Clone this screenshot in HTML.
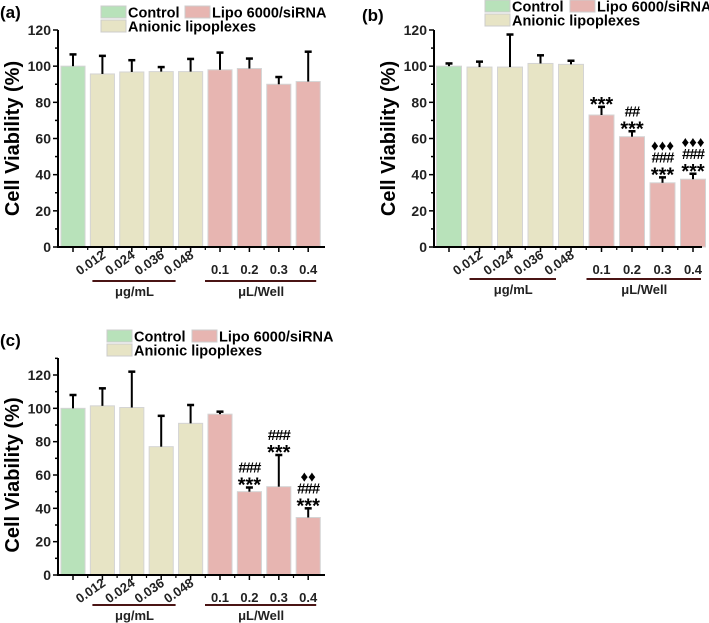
<!DOCTYPE html>
<html><head><meta charset="utf-8"><style>
html,body{margin:0;padding:0;background:#fff;}
svg{display:block;font-family:"Liberation Sans",Arial,sans-serif;}
</style></head><body>
<svg id="fig" width="709" height="623" viewBox="0 0 709 623" xmlns="http://www.w3.org/2000/svg"></svg>
<script>
const categories = ["Control","0.012","0.024","0.036","0.048","0.1","0.2","0.3","0.4"];
const groups = ["control","anionic","anionic","anionic","anionic","lipo","lipo","lipo","lipo"];
const yTicks = [0,20,40,60,80,100,120];
const valuesA = [100,95.7,96.8,97,97,98,98.7,90,91.5];
const errorsA = [6.5,10,6.5,2.5,7,9.5,5.5,4,16.5];
const valuesB = [100,99.5,99.5,101.5,101,73,61,35.5,37.5];
const errorsB = [1.5,3,18,4.5,2,4.5,3,3,3];
const annotB = [[],[],[],[],[],["***"],["***","##"],["***","###","\u2666\u2666\u2666"],["***","###","\u2666\u2666\u2666"]];
const valuesC = [100,101.5,100.5,77,91,96.5,50,53,34.5];
const errorsC = [8,10.5,21.5,18.5,11,1.5,2.5,19,5.5];
const annotC = [[],[],[],[],[],[],["***","###"],["***","###"],["***","###","\u2666\u2666"]];

const NS="http://www.w3.org/2000/svg";
const svg=document.getElementById('fig');
const colors={control:"#b8e2ba",anionic:"#e7e4c5",lipo:"#e7b5b1"};
function mk(tag,attrs,parent,text){const e=document.createElementNS(NS,tag);for(const k in attrs)e.setAttribute(k,attrs[k]);if(text!==undefined)e.textContent=text;(parent||svg).appendChild(e);return e;}

function panel(p){
  const g=mk('g',{});
  
  
  const y=v=>p.y0-(v/120)*(p.y0-p.y120);
  const x=i=>p.c0+p.step*i;
  const bw=p.step*0.82;
  const lab=mk('text',{x:p.lx,y:p.ly,'font-size':17,'font-weight':'bold'},g,'('+p.id+')');
  
  
  const leg=[["control","Control",p.lgx,p.lgy],["lipo","Lipo 6000/siRNA",p.lgx2,p.lgy],["anionic","Anionic lipoplexes",p.lgx,p.lgy+14]];
  leg.forEach(l=>{
    const le=mk('g',{},g);
    
    
    mk('rect',{x:l[2],y:l[3],width:25,height:12,fill:colors[l[0]],stroke:'#ccc','stroke-width':1},le);
    mk('text',{x:l[2]+27,y:l[3]+11.5,'font-size':14.5,'font-weight':'bold'},le,l[1]);
  });
  p.vals.forEach((v,i)=>{
    const b=mk('rect',{x:x(i)-bw/2,y:y(v),width:bw,height:p.y0-y(v),fill:colors[groups[i]],stroke:'#d4d4d4','stroke-width':1},g);
    
    
    const e=mk('g',{},g);
    
    
    const top=y(v+p.errs[i]);
    mk('line',{x1:x(i),x2:x(i),y1:y(v),y2:top,stroke:'#000','stroke-width':2},e);
    mk('line',{x1:x(i)-3.5,x2:x(i)+3.5,y1:top,y2:top,stroke:'#000','stroke-width':2.5},e);
    if(p.ann){
      p.ann[i].forEach((s,k)=>{
        const t=mk('text',{x:x(i),y:top-3-k*12+(s[0]=='*'?7:0),'font-size':s[0]=='*'?20:15,'font-weight':'bold','text-anchor':'middle','letter-spacing':s[0]=='#'?-1:0},g,s);
        
        
      });
    }
  });
  const ax=mk('g',{},g);
  
  
  mk('line',{x1:p.ax,x2:p.ax,y1:p.axTop,y2:p.y0+1,stroke:'#000','stroke-width':2},ax);
  mk('line',{x1:p.ax-1,x2:p.right,y1:p.y0,y2:p.y0,stroke:'#000','stroke-width':2},ax);
  for(let v=0;v<=p.maxMinor;v+=10){
    const major=yTicks.includes(v);
    mk('line',{x1:p.ax-(major?5:3),x2:p.ax,y1:y(v),y2:y(v),stroke:'#000','stroke-width':1.5},ax);
  }
  yTicks.forEach(v=>{mk('text',{x:p.ax-7,y:y(v)+5,'font-size':14,'font-weight':'bold','text-anchor':'end',fill:'#222'},ax,v);});
  categories.forEach((c,i)=>{
    mk('line',{x1:x(i),x2:x(i),y1:p.y0,y2:p.y0+5,stroke:'#000','stroke-width':1.5},ax);
    if(i>0)mk('line',{x1:x(i)-p.step/2,x2:x(i)-p.step/2,y1:p.y0,y2:p.y0+3,stroke:'#000','stroke-width':1.2},ax);
    if(i>=1&&i<=4){
      mk('text',{x:x(i)+4,y:p.y0+10,'font-size':13,'font-weight':'bold','text-anchor':'end',transform:`rotate(-35 ${x(i)+4} ${p.y0+10})`,fill:'#222'},ax,c);
    } else if(i>=5){
      mk('text',{x:x(i),y:p.y0+27,'font-size':13,'font-weight':'bold','text-anchor':'middle',fill:'#222'},ax,c);
    }
  });
  const ul=p.y0+p.ulOff;
  mk('line',{x1:x(1)-10,x2:x(4)-15,y1:ul,y2:ul,stroke:'#4a1414','stroke-width':2},ax);
  mk('line',{x1:x(5)-15,x2:x(8)+8,y1:ul,y2:ul,stroke:'#4a1414','stroke-width':2},ax);
  mk('text',{x:(x(1)+x(4))/2-12,y:ul+15,'font-size':13,'font-weight':'bold','text-anchor':'middle',fill:'#222'},ax,'\u03bcg/mL');
  mk('text',{x:(x(5)+x(8))/2-3,y:ul+15,'font-size':13,'font-weight':'bold','text-anchor':'middle',fill:'#222'},ax,'\u03bcL/Well');
  const yl=mk('text',{x:0,y:0,'font-size':20,'font-weight':'bold','text-anchor':'middle',transform:`translate(${p.ax-39} ${(p.y0+p.y120)/2}) rotate(-90)`},g,'Cell Viability (%)');
  
  
}

panel({id:'a',vals:valuesA,errs:errorsA,ann:null,y0:247,y120:30,axTop:30,maxMinor:120,ax:58,c0:73,step:29.4,right:325,lx:0,ly:18,lgx:101,lgy:6,lgx2:185,ulOff:34});
panel({id:'b',vals:valuesB,errs:errorsB,ann:annotB,y0:247,y120:30,axTop:30,maxMinor:120,ax:434,c0:449,step:30.5,right:702,lx:362,ly:21,lgx:485,lgy:0,lgx2:570,ulOff:32});
panel({id:'c',vals:valuesC,errs:errorsC,ann:annotC,y0:575,y120:375,axTop:358,maxMinor:130,ax:58,c0:73,step:29.4,right:325,lx:0,ly:346,lgx:107,lgy:330,lgx2:192,ulOff:30});
</script>
</body></html>
